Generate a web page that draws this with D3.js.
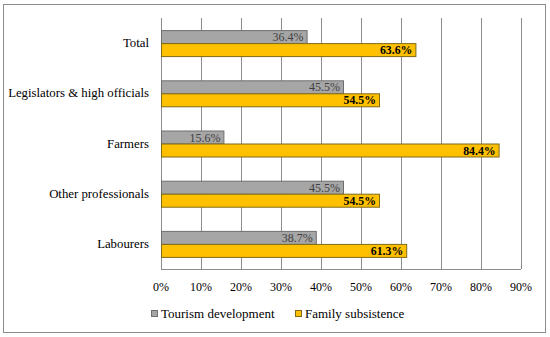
<!DOCTYPE html>
<html><head><meta charset="utf-8">
<script src="https://cdn.jsdelivr.net/npm/d3@7"></script>
<style>body{margin:0;background:#fff}</style>
</head><body>
<svg id="c" width="550" height="337"></svg>
<script>
const categories = ["Total","Legislators & high officials","Farmers","Other professionals","Labourers"];
const tourism = [36.4,45.5,15.6,45.5,38.7];
const family = [63.6,54.5,84.4,54.5,61.3];
const seriesNames = ["Tourism development","Family subsistence"];
const ticks = [0,10,20,30,40,50,60,70,80,90];

const svg = d3.select("#c");
const font = "Liberation Serif";
svg.append("rect").attr("x",3.5).attr("y",4.5).attr("width",542).attr("height",328)
  .attr("fill","#fff").attr("stroke","#8c8c8c").attr("stroke-width",1);

const x = d3.scaleLinear().domain([0,90]).range([161,521]);
const y = d3.scaleBand().domain(categories).range([18,269]);
const inner = d3.scaleBand().domain([0,1]).range([0,26]);

// grid
svg.append("g").selectAll("line").data(ticks).join("line")
  .attr("x1",d=>x(d)+0.5).attr("x2",d=>x(d)+0.5).attr("y1",18).attr("y2",269)
  .attr("stroke","#8c8c8c").attr("stroke-width",1);
svg.append("line").attr("x1",161).attr("x2",521).attr("y1",269.5).attr("y2",269.5).attr("stroke","#8c8c8c");

const fills = ["#a6a6a6","#ffc000"];
const strokes = ["#6f6f6f","#7f6a1a"];
const vals = [tourism, family];
vals.forEach((arr,si)=>{
  const g = svg.append("g");
  g.selectAll("rect").data(arr).join("rect")
    .attr("x",x(0)+0.5)
    .attr("y",(d,i)=>y(categories[i])+y.bandwidth()/2-13+inner(si)+0.5)
    .attr("width",d=>x(d)-x(0))
    .attr("height",13)
    .attr("fill",fills[si]).attr("stroke",strokes[si]).attr("stroke-width",1);
  g.selectAll("text").data(arr).join("text")
    .attr("x",d=>x(d)-3)
    .attr("y",(d,i)=>y(categories[i])+y.bandwidth()/2-13+inner(si)+11)
    .attr("text-anchor","end")
    .style("font-family",font).attr("font-size",si===1?11.8:12)
    .style("font-weight",si===1?"bold":"normal")
    .attr("fill",si===1?"#000":"#404040")
    .text(d=>d.toFixed(1)+"%");
});

// category labels
svg.append("g").selectAll("text").data(categories).join("text")
  .attr("x",149).attr("y",d=>y(d)+y.bandwidth()/2+4)
  .attr("text-anchor","end").style("font-family",font).attr("font-size",12.8)
  .attr("fill","#000").text(d=>d);

// x tick labels
svg.append("g").selectAll("text").data(ticks).join("text")
  .attr("x",d=>x(d)).attr("y",291).attr("text-anchor","middle")
  .style("font-family",font).attr("font-size",12).attr("fill","#000")
  .text(d=>d+"%");

// legend
const lx = [151,295];
seriesNames.forEach((n,i)=>{
  svg.append("rect").attr("x",lx[i]+0.5).attr("y",310.5).attr("width",6).attr("height",6)
    .attr("fill",fills[i]).attr("stroke",strokes[i]);
  svg.append("text").attr("x",lx[i]+10).attr("y",318).style("font-family",font)
    .attr("font-size",13).attr("fill","#000").text(n);
});
</script>
</body></html>
